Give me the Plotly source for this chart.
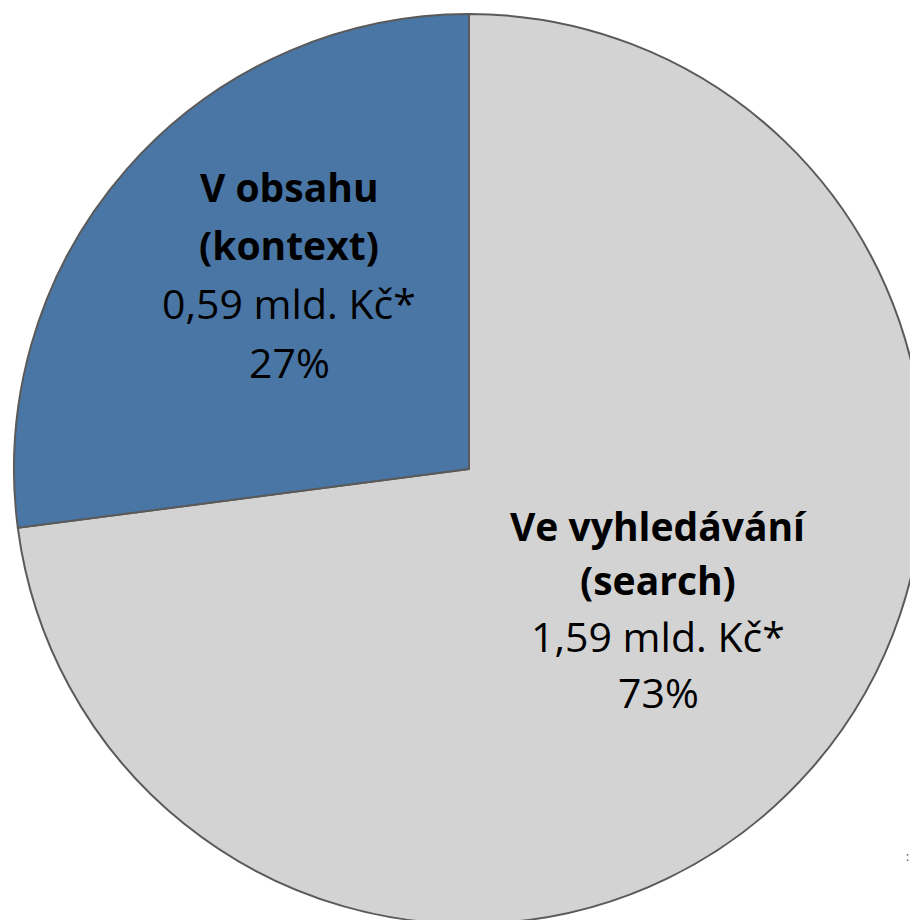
import plotly.graph_objects as go

# Data (drawn clockwise from 12 o'clock)
name_lines = [["Ve vyhledávání", "(search)"], ["V obsahu", "(kontext)"]]
categories = ["Ve vyhledávání (search)", "V obsahu (kontext)"]
values = [1.59, 0.59]  # mld. Kč
value_labels = ["1,59 mld. Kč*", "0,59 mld. Kč*"]
percent_labels = ["73%", "27%"]
colors = ["#d3d3d3", "#4a76a5"]

W, H = 924, 924


def px(sx):
    return sx / W


def py(sy):
    return 1 - sy / H


fig = go.Figure(
    go.Pie(
        labels=categories,
        values=values,
        sort=False,
        direction="clockwise",
        rotation=0,
        marker=dict(colors=colors, line=dict(color="#5a5a5a", width=2)),
        textinfo="none",
        hoverinfo="label+value+percent",
        showlegend=False,
        domain=dict(x=[14 / W, 1], y=[0, 1 - 14 / H]),
    )
)

FONT = "'Open Sans', sans-serif"
FS_BOLD = 39
FS_REG = 41
# text line centres (screen pixels) for each slice
centres = [(658, [525, 579, 636, 692]), (289, [186, 244, 303, 362])]
annotations = []
for i, (cx, ys) in enumerate(centres):
    lines = [(name_lines[i][0], True), (name_lines[i][1], True),
             (value_labels[i], False), (percent_labels[i], False)]
    for (txt, bold), sy in zip(lines, ys):
        annotations.append(dict(
            x=px(cx), y=py(sy), xref="paper", yref="paper",
            text=f"<b>{txt}</b>" if bold else txt,
            showarrow=False, xanchor="center", yanchor="middle",
            font=dict(family=FONT, size=FS_BOLD if bold else FS_REG,
                      color="#000000"),
        ))
annotations.append(dict(
    x=px(907), y=py(856), xref="paper", yref="paper", text=":",
    showarrow=False, xanchor="center", yanchor="middle",
    font=dict(family=FONT, size=12, color="#444444"),
))

fig.update_layout(
    width=W, height=H,
    margin=dict(l=0, r=0, t=0, b=0, pad=0),
    paper_bgcolor="white", plot_bgcolor="white",
    annotations=annotations,
)

fig.write_html(
    "out.html",
    post_script=("document.body.style.margin='0';"
                 "document.documentElement.style.overflow='hidden';"),
    config={"displayModeBar": False},
)
